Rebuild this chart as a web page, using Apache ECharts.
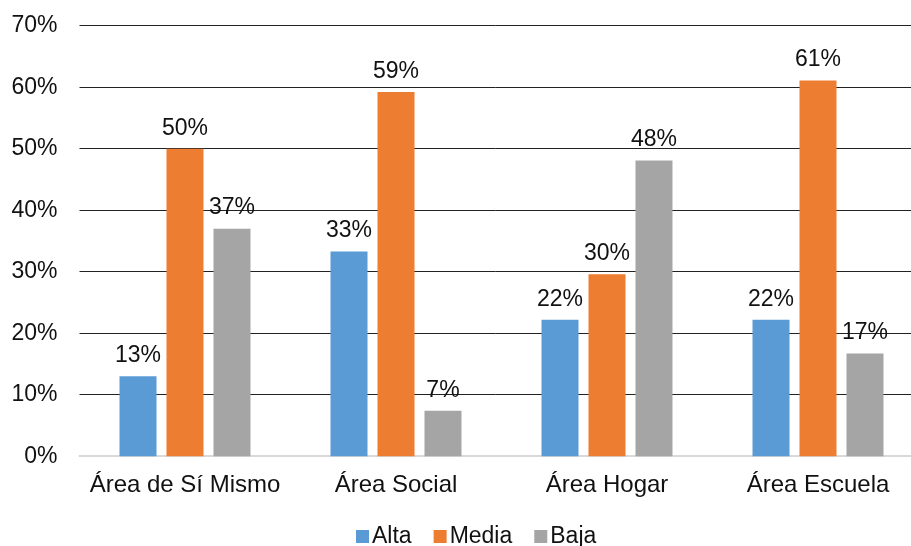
<!DOCTYPE html>
<html>
<head>
<meta charset="utf-8">
<title>Áreas</title>
<script src="https://cdn.jsdelivr.net/npm/echarts@6/dist/echarts.min.js"></script>
<style>
  html, body { margin: 0; padding: 0; background: #fff; }
  #chart { width: 911px; height: 546px; }
</style>
</head>
<body>
<div id="chart"></div>
<script>
// Categories and percentages per level
const categories = ['Área de Sí Mismo', 'Área Social', 'Área Hogar', 'Área Escuela'];
const alta = [13.0, 33.3, 22.2, 22.2];
const media = [50.0, 59.2, 29.6, 61.1];
const baja = [37.0, 7.4, 48.1, 16.7];
const yTicks = [0, 10, 20, 30, 40, 50, 60, 70];

const FONT = 'Liberation Sans, Arial, sans-serif';
const TEXT = '#111';

function barSeries(name, data, color) {
  return {
    name: name,
    type: 'bar',
    data: data,
    barWidth: 37,
    barGap: '27%',
    itemStyle: { color: color },
    label: {
      show: true,
      position: 'top',
      distance: 9,
      color: TEXT,
      fontFamily: FONT,
      fontSize: 23,
      formatter: p => Math.round(p.value) + '%'
    }
  };
}

const chart = echarts.init(document.getElementById('chart'));
chart.setOption({
  animation: false,
  backgroundColor: '#fff',
  grid: {
    left: 79.5, top: 25.7, width: 844, height: 430.5,
    containLabel: false, outerBoundsMode: 'none'
  },
  legend: {
    bottom: -7,
    left: 351,
    itemWidth: 13,
    itemHeight: 13,
    itemGap: 22,
    icon: 'rect',
    textStyle: { color: TEXT, fontFamily: FONT, fontSize: 23, padding: [0, 0, 0, -2] },
    data: ['Alta', 'Media', 'Baja']
  },
  xAxis: {
    type: 'category',
    data: categories,
    axisLine: { lineStyle: { color: '#d9d9d9', width: 2 } },
    axisTick: { show: false },
    axisLabel: { interval: 0, color: TEXT, fontFamily: FONT, fontSize: 24, margin: 17 }
  },
  yAxis: {
    type: 'value',
    min: yTicks[0],
    max: yTicks[yTicks.length - 1],
    interval: 10,
    axisLine: { show: false },
    axisTick: { show: false },
    axisLabel: { color: TEXT, fontFamily: FONT, fontSize: 23, margin: 22, formatter: v => v + '%' },
    splitLine: { lineStyle: { color: ['#d9d9d9', '#222', '#222', '#222', '#222', '#222', '#222', '#222'], width: 1 } }
  },
  series: [
    barSeries('Alta', alta, '#5B9BD5'),
    barSeries('Media', media, '#ED7D31'),
    barSeries('Baja', baja, '#A5A5A5')
  ]
});
</script>
</body>
</html>
